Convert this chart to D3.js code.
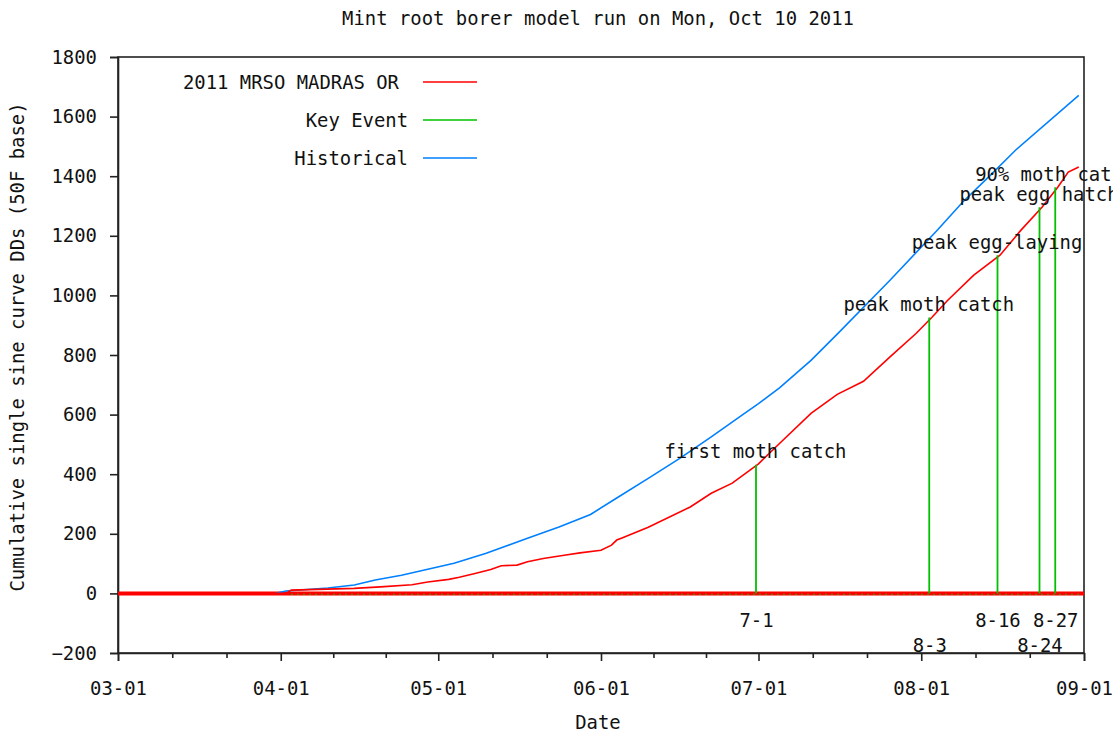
<!DOCTYPE html>
<html>
<head>
<meta charset="utf-8">
<script src="https://cdn.jsdelivr.net/npm/d3@7"></script>
<style>
  body { margin: 0; background: #fff; }
  text { font-family: "DejaVu Sans Mono", monospace; font-size: 18.9px; fill: #111; }
</style>
</head>
<body>
<svg id="chart"></svg>
<script>
// 2011 MRSO MADRAS OR (cumulative DDs)
const madrasDates = ["2011-03-01", "2011-04-02", "2011-04-03", "2011-04-15", "2011-04-20", "2011-04-26",
  "2011-04-29", "2011-05-03", "2011-05-05", "2011-05-08", "2011-05-11", "2011-05-13", "2011-05-16",
  "2011-05-18", "2011-05-21", "2011-05-25", "2011-05-28", "2011-06-01", "2011-06-03", "2011-06-04",
  "2011-06-05", "2011-06-10", "2011-06-18", "2011-06-22", "2011-06-26", "2011-07-01", "2011-07-05",
  "2011-07-11", "2011-07-16", "2011-07-21", "2011-07-26", "2011-07-31", "2011-08-03", "2011-08-06",
  "2011-08-11", "2011-08-16", "2011-08-20", "2011-08-24", "2011-08-27", "2011-08-29", "2011-08-31"];
const madrasDD = [0, 0, 11, 17, 22, 29,
  38, 47, 54, 67, 80, 93, 95,
  106, 117, 128, 136, 145, 162, 179,
  186, 222, 290, 336, 370, 435, 503,
  604, 668, 712, 793, 872, 926, 983,
  1068, 1135, 1219, 1296, 1363, 1414, 1431];

// Historical average
const histDates = ["2011-03-31", "2011-04-02", "2011-04-10", "2011-04-15", "2011-04-19", "2011-04-24",
  "2011-04-29", "2011-05-04", "2011-05-10", "2011-05-18", "2011-05-24", "2011-05-30", "2011-06-04",
  "2011-06-10", "2011-06-16", "2011-06-22", "2011-06-28", "2011-07-01", "2011-07-05", "2011-07-11",
  "2011-07-16", "2011-07-26", "2011-08-04", "2011-08-09", "2011-08-14", "2011-08-19", "2011-08-31"];
const histDD = [0, 8, 18, 28, 45, 61,
  81, 101, 134, 185, 223, 265, 320,
  386, 453, 525, 600, 637, 690, 782,
  870, 1050, 1218, 1315, 1400, 1488, 1671];

// Key events
const eventNames = ["first moth catch", "peak moth catch", "peak egg-laying", "peak egg hatch", "90% moth catch"];
const eventDates = ["2011-07-01", "2011-08-03", "2011-08-16", "2011-08-24", "2011-08-27"];
const eventLabels = ["7-1", "8-3", "8-16", "8-24", "8-27"];
const eventDD = [432, 926, 1135, 1296, 1363];

const legendNames = ["2011 MRSO MADRAS OR", "Key Event", "Historical"];
const legendColors = ["#ff0000", "#00c000", "#0080ff"];

const yTicks = [-200, 0, 200, 400, 600, 800, 1000, 1200, 1400, 1600, 1800];
const monthTicks = ["2011-03-01", "2011-04-01", "2011-05-01", "2011-06-01", "2011-07-01", "2011-08-01", "2011-09-01"];

const parse = d3.timeParse("%Y-%m-%d");

const width = 1113, height = 734;
const margin = { top: 57, right: 29, bottom: 81, left: 118 };

const svg = d3.select("#chart")
  .attr("width", width)
  .attr("height", height)
  .style("background-color", "#fff");

const x = d3.scaleTime()
  .domain([parse(monthTicks[0]), parse(monthTicks[monthTicks.length - 1])])
  .range([margin.left, width - margin.right]);

const y = d3.scaleLinear()
  .domain([-200, 1800])
  .range([height - margin.bottom, margin.top]);

// minor ticks: thirds of each month
const minorTicks = [];
for (let i = 0; i < monthTicks.length - 1; i++) {
  const a = parse(monthTicks[i]).getTime(), b = parse(monthTicks[i + 1]).getTime();
  minorTicks.push(new Date(a + (b - a) / 3), new Date(a + 2 * (b - a) / 3));
}

// frame
svg.append("rect")
  .attr("x", margin.left)
  .attr("y", margin.top)
  .attr("width", width - margin.right - margin.left)
  .attr("height", height - margin.bottom - margin.top)
  .attr("fill", "none")
  .attr("stroke", "#222")
  .attr("stroke-width", 1.6);

// Y axis
const yAxis = svg.append("g")
  .attr("transform", `translate(${margin.left},0)`)
  .call(d3.axisLeft(y).tickValues(yTicks).tickSize(8).tickPadding(13).tickFormat(d3.format("d")));
yAxis.select(".domain").attr("stroke", "#222").attr("stroke-width", 1.6);
yAxis.selectAll(".tick line").attr("stroke", "#222").attr("stroke-width", 1.6);
yAxis.selectAll("text").attr("font-family", null).attr("font-size", null);

// X axis
const xAxis = svg.append("g")
  .attr("transform", `translate(0,${height - margin.bottom})`)
  .call(d3.axisBottom(x).tickValues(monthTicks.map(parse)).tickSize(8).tickPadding(21)
    .tickFormat(d3.timeFormat("%m-%d")));
xAxis.select(".domain").attr("stroke", "#222").attr("stroke-width", 1.6);
xAxis.selectAll(".tick line").attr("stroke", "#222").attr("stroke-width", 1.6);
xAxis.selectAll("text").attr("font-family", null).attr("font-size", null);

const xMinor = svg.append("g")
  .attr("transform", `translate(0,${height - margin.bottom})`)
  .call(d3.axisBottom(x).tickValues(minorTicks).tickSize(5).tickFormat(""));
xMinor.select(".domain").remove();
xMinor.selectAll(".tick line").attr("stroke", "#222").attr("stroke-width", 1.6);

// Titles
svg.append("text")
  .attr("x", 598).attr("y", 25)
  .attr("text-anchor", "middle")
  .text("Mint root borer model run on Mon, Oct 10 2011");

svg.append("text")
  .attr("x", 598).attr("y", 729)
  .attr("text-anchor", "middle")
  .text("Date");

svg.append("text")
  .attr("transform", "translate(24,347) rotate(-90)")
  .attr("text-anchor", "middle")
  .text("Cumulative single sine curve DDs (50F base)");

const line = d3.line().x(d => x(d[0])).y(d => y(d[1]));

// red zero baseline
svg.append("path")
  .datum([[x.domain()[0], 0], [x.domain()[1], 0]])
  .attr("d", line)
  .attr("stroke", legendColors[0])
  .attr("stroke-width", 4)
  .attr("fill", "none");

// Historical
svg.append("path")
  .datum(histDates.map((d, i) => [parse(d), histDD[i]]))
  .attr("d", line)
  .attr("stroke", legendColors[2])
  .attr("stroke-width", 1.6)
  .attr("fill", "none");

// 2011
svg.append("path")
  .datum(madrasDates.map((d, i) => [parse(d), madrasDD[i]]))
  .attr("d", line)
  .attr("stroke", legendColors[0])
  .attr("stroke-width", 1.6)
  .attr("fill", "none");

// key event zero line (dotted)
svg.append("path")
  .datum([[parse("2011-04-03"), 0], [parse("2011-08-31"), 0]])
  .attr("d", line)
  .attr("transform", "translate(0,1)")
  .attr("stroke", legendColors[1])
  .attr("stroke-width", 1.2)
  .attr("stroke-dasharray", "1.5,4.5")
  .attr("fill", "none");

// key event impulses
const events = eventDates.map((d, i) => ({ date: parse(d), dd: eventDD[i], name: eventNames[i], label: eventLabels[i], i }));

svg.selectAll("line.event")
  .data(events)
  .enter()
  .append("line")
  .attr("class", "event")
  .attr("x1", d => x(d.date) - 2.5)
  .attr("x2", d => x(d.date) - 2.5)
  .attr("y1", y(0))
  .attr("y2", d => y(d.dd))
  .attr("stroke", legendColors[1])
  .attr("stroke-width", 1.8);

svg.selectAll("text.event-name")
  .data(events)
  .enter()
  .append("text")
  .attr("class", "event-name")
  .attr("x", d => x(d.date) - 3)
  .attr("y", d => y(d.dd) - 13)
  .attr("dy", "0.35em")
  .attr("text-anchor", "middle")
  .text(d => d.name);

svg.selectAll("text.event-date")
  .data(events)
  .enter()
  .append("text")
  .attr("class", "event-date")
  .attr("x", d => x(d.date) - 2)
  .attr("y", d => y(0) + (d.i % 2 ? 52 : 27))
  .attr("dy", "0.35em")
  .attr("text-anchor", "middle")
  .text(d => d.label);

// Legend
const legend = svg.append("g");
legendNames.forEach((name, i) => {
  const ly = 82 + i * 38;
  legend.append("text")
    .attr("x", i === 0 ? 399 : 408).attr("y", ly)
    .attr("dy", "0.35em")
    .attr("text-anchor", "end")
    .text(name);
  legend.append("line")
    .attr("x1", 423).attr("x2", 477)
    .attr("y1", ly).attr("y2", ly)
    .attr("stroke", legendColors[i])
    .attr("stroke-width", 1.6);
});
</script>
</body>
</html>
